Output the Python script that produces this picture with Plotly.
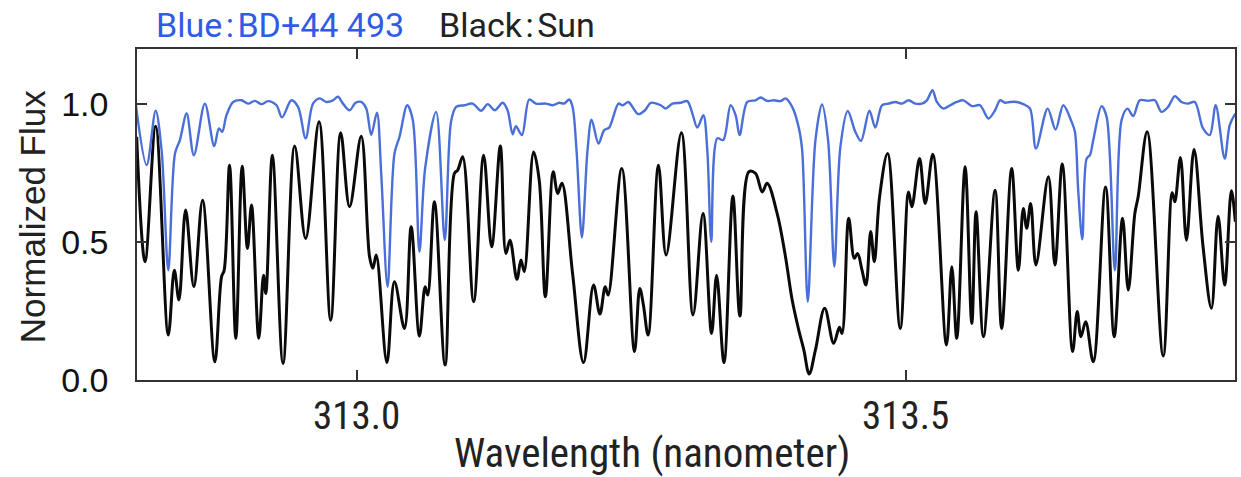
import plotly.graph_objects as go

# Sun (black) spectrum
sun_wl = [312.7997, 312.8073, 312.8170, 312.8285, 312.8340, 312.8382, 312.8443, 312.8518, 312.8597, 312.8709,
          312.8770, 312.8794, 312.8843, 312.8900, 312.8958, 312.9006, 312.9043, 312.9109, 312.9152, 312.9173,
          312.9233, 312.9330, 312.9436, 312.9536, 312.9658, 312.9764, 312.9855, 312.9936, 313.0042, 313.0118,
          313.0148, 313.0179, 313.0276, 313.0345, 313.0436, 313.0497, 313.0572, 313.0624, 313.0648, 313.0709,
          313.0806, 313.0891, 313.0921, 313.0966, 313.1066, 313.1157, 313.1230, 313.1309, 313.1360, 313.1397,
          313.1460, 313.1497, 313.1527, 313.1612, 313.1663, 313.1719, 313.1791, 313.1831, 313.1870, 313.1967,
          313.2067, 313.2158, 313.2216, 313.2264, 313.2291, 313.2415, 313.2531, 313.2579, 313.2612, 313.2655,
          313.2749, 313.2819, 313.2958, 313.3064, 313.3155, 313.3233, 313.3279, 313.3346, 313.3427, 313.3491,
          313.3573, 313.3633, 313.3694, 313.3739, 313.3830, 313.3906, 313.3967, 313.4027, 313.4073, 313.4122,
          313.4179, 313.4263, 313.4345, 313.4397, 313.4421, 313.4482, 313.4533, 313.4563, 313.4603, 313.4639,
          313.4682, 313.4715, 313.4763, 313.4836, 313.4951, 313.5027, 313.5057, 313.5127, 313.5179, 313.5248,
          313.5372, 313.5421, 313.5466, 313.5542, 313.5603, 313.5642, 313.5709, 313.5815, 313.5875, 313.5966,
          313.6027, 313.6072, 313.6103, 313.6139, 313.6187, 313.6300, 313.6360, 313.6427, 313.6521, 313.6563,
          313.6597, 313.6640, 313.6709, 313.6821, 313.6900, 313.6976, 313.7028, 313.7088, 313.7118, 313.7200,
          313.7346, 313.7428, 313.7452, 313.7503, 313.7558, 313.7627, 313.7709, 313.7785, 313.7846, 313.7906,
          313.7967, 313.8003]
sun_flux = [0.882, 0.429, 0.920, 0.163, 0.398, 0.290, 0.616, 0.338, 0.652, 0.066,
            0.374, 0.398, 0.779, 0.151, 0.775, 0.477, 0.634, 0.151, 0.380, 0.314,
            0.815, 0.060, 0.848, 0.513, 0.936, 0.217, 0.896, 0.628, 0.884, 0.447,
            0.405, 0.453, 0.063, 0.356, 0.187, 0.556, 0.159, 0.338, 0.308, 0.646,
            0.054, 0.749, 0.761, 0.809, 0.284, 0.815, 0.483, 0.848, 0.459, 0.507,
            0.365, 0.435, 0.393, 0.827, 0.725, 0.302, 0.755, 0.676, 0.713, 0.386,
            0.063, 0.344, 0.239, 0.338, 0.308, 0.767, 0.103, 0.332, 0.272, 0.163,
            0.779, 0.453, 0.896, 0.236, 0.604, 0.169, 0.380, 0.063, 0.667, 0.232,
            0.755, 0.749, 0.682, 0.713, 0.604, 0.447, 0.290, 0.181, 0.109, 0.022,
            0.109, 0.260, 0.133, 0.191, 0.169, 0.586, 0.441, 0.459, 0.398, 0.344,
            0.538, 0.429, 0.664, 0.821, 0.187, 0.682, 0.628, 0.803, 0.640, 0.818,
            0.127, 0.411, 0.151, 0.773, 0.205, 0.610, 0.157, 0.688, 0.187, 0.767,
            0.398, 0.622, 0.550, 0.640, 0.417, 0.737, 0.417, 0.783, 0.103, 0.248,
            0.157, 0.211, 0.066, 0.700, 0.157, 0.586, 0.326, 0.604, 0.664, 0.900,
            0.087, 0.679, 0.646, 0.807, 0.507, 0.836, 0.483, 0.260, 0.594, 0.344,
            0.686, 0.574]

# BD+44 493 (blue) spectrum
star_wl = [312.7990, 312.8088, 312.8170, 312.8224, 312.8285, 312.8346, 312.8391, 312.8452, 312.8518, 312.8618,
           312.8703, 312.8746, 312.8776, 312.8815, 312.8876, 312.8952, 312.9012, 312.9073, 312.9134, 312.9194,
           312.9270, 312.9321, 312.9406, 312.9467, 312.9536, 312.9603, 312.9664, 312.9724, 312.9785, 312.9830,
           312.9876, 312.9936, 312.9991, 313.0042, 313.0088, 313.0133, 313.0185, 313.0224, 313.0282, 313.0345,
           313.0391, 313.0461, 313.0512, 313.0572, 313.0624, 313.0724, 313.0803, 313.0860, 313.0906, 313.0981,
           313.1057, 313.1133, 313.1194, 313.1260, 313.1330, 313.1375, 313.1421, 313.1451, 313.1506, 313.1572,
           313.1633, 313.1725, 313.1785, 313.1846, 313.1891, 313.1937, 313.1967, 313.2003, 313.2052, 313.2103,
           313.2140, 313.2203, 313.2255, 313.2300, 313.2385, 313.2422, 313.2476, 313.2512, 313.2564, 313.2627,
           313.2679, 313.2770, 313.2815, 313.2876, 313.2952, 313.3012, 313.3058, 313.3103, 313.3158, 313.3194,
           313.3230, 313.3285, 313.3339, 313.3406, 313.3452, 313.3488, 313.3558, 313.3633, 313.3679, 313.3739,
           313.3800, 313.3861, 313.3906, 313.3967, 313.4027, 313.4058, 313.4109, 313.4179, 313.4239, 313.4294,
           313.4351, 313.4406, 313.4473, 313.4542, 313.4594, 313.4670, 313.4724, 313.4785, 313.4845, 313.4906,
           313.4967, 313.5027, 313.5088, 313.5148, 313.5194, 313.5245, 313.5285, 313.5345, 313.5406, 313.5466,
           313.5527, 313.5603, 313.5678, 313.5754, 313.5815, 313.5860, 313.5906, 313.5951, 313.6012, 313.6072,
           313.6133, 313.6187, 313.6294, 313.6366, 313.6436, 313.6512, 313.6542, 313.6572, 313.6609, 313.6649,
           313.6679, 313.6709, 313.6785, 313.6831, 313.6906, 313.6967, 313.7021, 313.7073, 313.7133, 313.7209,
           313.7270, 313.7330, 313.7391, 313.7452, 313.7512, 313.7573, 313.7634, 313.7709, 313.7770, 313.7824,
           313.7906, 313.7952, 313.8003]
star_flux = [0.996, 0.779, 0.976, 0.833, 0.398, 0.821, 0.870, 0.966, 0.815, 1.002,
             0.848, 0.912, 0.900, 0.960, 1.008, 1.014, 1.002, 1.012, 1.000, 1.011,
             0.996, 0.952, 1.014, 0.990, 0.876, 1.002, 1.021, 1.008, 1.014, 1.027,
             1.002, 0.978, 1.005, 1.008, 0.984, 0.888, 0.969, 0.749, 0.338, 0.821,
             0.882, 0.996, 0.942, 0.465, 0.767, 0.972, 0.507, 0.936, 0.990, 0.996,
             1.002, 0.976, 1.000, 0.978, 1.005, 0.978, 0.891, 0.920, 0.888, 1.017,
             1.002, 1.002, 0.996, 1.005, 1.002, 1.017, 0.990, 0.833, 0.517, 0.833,
             0.944, 0.857, 0.906, 0.915, 1.002, 0.996, 1.008, 0.990, 0.964, 0.978,
             1.005, 0.996, 0.984, 1.002, 1.005, 1.011, 0.966, 0.915, 0.960, 0.833,
             0.501, 0.876, 0.870, 0.996, 0.960, 0.888, 1.008, 1.014, 1.024, 1.012,
             1.014, 1.011, 1.021, 0.990, 0.915, 0.833, 0.284, 0.870, 0.999, 0.870,
             0.411, 0.845, 0.975, 0.900, 0.867, 0.976, 0.915, 0.996, 1.002, 1.008,
             1.002, 1.014, 1.002, 1.002, 1.014, 1.051, 1.008, 0.984, 0.996, 1.008,
             1.014, 0.993, 0.996, 0.948, 0.978, 1.014, 1.005, 1.008, 1.008, 1.000,
             0.984, 0.839, 0.984, 0.908, 0.996, 0.936, 0.900, 0.688, 0.510, 0.803,
             0.815, 0.870, 0.993, 0.954, 0.398, 0.942, 0.984, 0.957, 1.014, 1.012,
             1.014, 0.972, 0.990, 1.029, 1.008, 1.002, 1.008, 0.912, 0.888, 0.996,
             0.803, 0.924, 0.966]

x_ticks = [313.0, 313.5]
x_ticktext = ["313.0", "313.5"]
y_ticks = [0.0, 0.5, 1.0]
y_ticktext = ["0.0", "0.5", "1.0"]

NARROW = "Liberation Sans Narrow, Arial Narrow, Roboto Condensed, sans-serif"
REG = "Liberation Sans, Arial, Helvetica, sans-serif"
TITLEF = "Roboto, Noto Sans, sans-serif"

fig = go.Figure()
fig.add_trace(go.Scatter(x=sun_wl, y=sun_flux, mode="lines", name="Sun",
                         line=dict(color="#0a0a0a", width=3, shape="spline", smoothing=1.0),
                         hoverinfo="skip"))
fig.add_trace(go.Scatter(x=star_wl, y=star_flux, mode="lines", name="BD+44 493",
                         line=dict(color="#4a6fd8", width=2.4, shape="spline", smoothing=0.9),
                         hoverinfo="skip"))

axis_common = dict(showgrid=False, zeroline=False, showline=True, linecolor="#333333", linewidth=1.5,
                   mirror="ticks", ticks="inside", ticklen=10, tickwidth=1.5, tickcolor="#333333")

fig.update_layout(
    width=1241, height=477,
    margin=dict(l=137, r=4, t=49, b=97),
    paper_bgcolor="white", plot_bgcolor="white",
    showlegend=False,
    xaxis=dict(range=[312.8, 313.8], tickvals=x_ticks, ticktext=x_ticktext,
               tickfont=dict(family=NARROW, size=39, color="#222222"),
               ticklabelstandoff=0, **axis_common),
    yaxis=dict(range=[0, 1.2], tickvals=y_ticks, ticktext=y_ticktext,
               tickfont=dict(family=REG, size=34, color="#111111"),
               ticklabelstandoff=20, **axis_common),
    annotations=[
        dict(text="Normalized Flux", xref="paper", yref="paper", x=-0.0955, y=0.4924,
             xanchor="center", yanchor="middle", textangle=-90, showarrow=False,
             font=dict(family=REG, size=35, color="#222222")),
        dict(text="Wavelength (nanometer)", xref="paper", yref="paper", x=0.469, y=-0.221,
             xanchor="center", yanchor="middle", showarrow=False,
             font=dict(family=NARROW, size=41, color="#222222")),
        dict(text="Blue\u200a:\u200aBD+44 493", xref="paper", yref="paper", x=0.0155, y=1.0725,
             xanchor="left", yanchor="middle", showarrow=False,
             font=dict(family=TITLEF, size=34, color="#2f5be6")),
        dict(text="Black\u200a:\u200aSun", xref="paper", yref="paper", x=0.2736, y=1.0725,
             xanchor="left", yanchor="middle", showarrow=False,
             font=dict(family=TITLEF, size=34, color="#222222")),
    ],
)

fig.write_html("out.html")
